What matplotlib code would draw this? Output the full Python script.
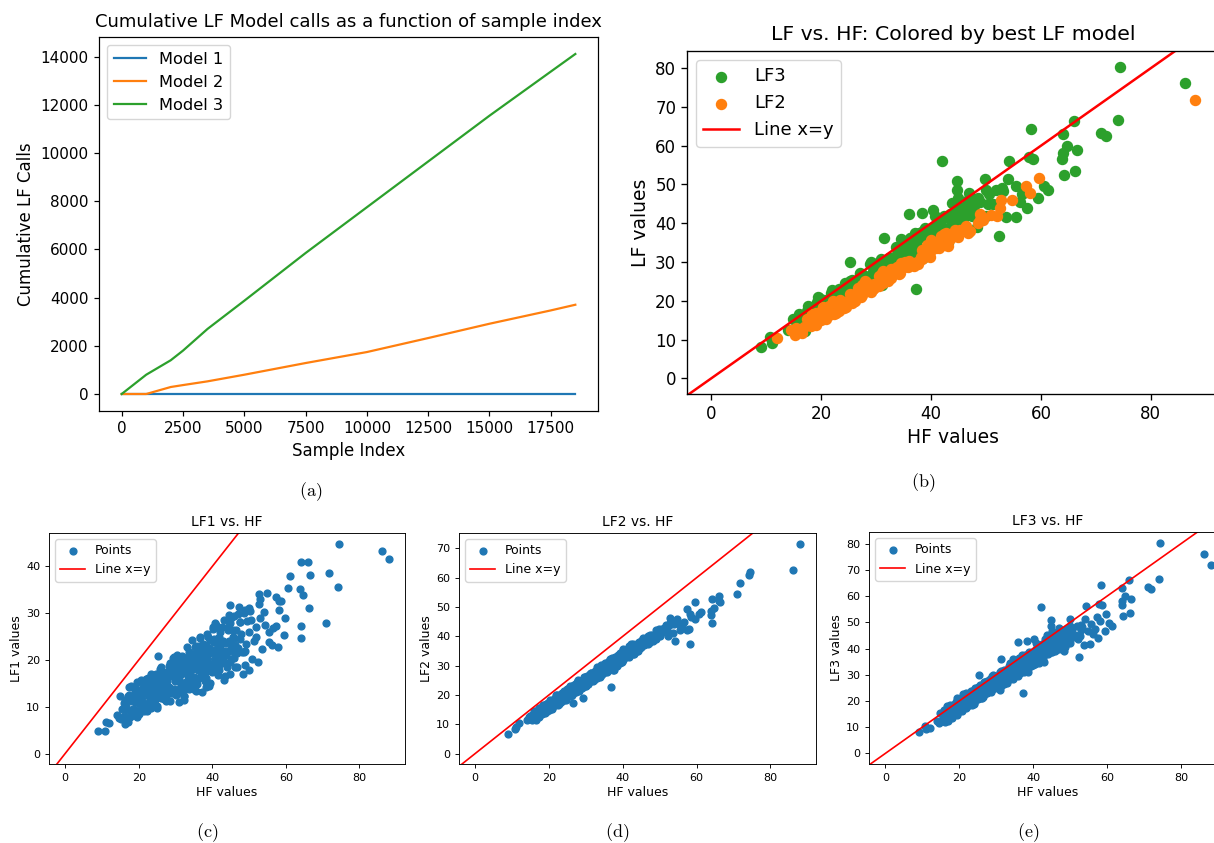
import numpy as np
import matplotlib
matplotlib.use('Agg')
import matplotlib.pyplot as plt

plt.rcParams['mathtext.fontset'] = 'cm'

W, H = 1214, 843

# Panel (a): cumulative calls per LF model
sample_idx = [0, 1000, 2000, 2500, 3500, 5000, 7500, 10000, 12500, 15000, 17500, 18500]
model1_calls = [0, 0, 0, 0, 0, 0, 0, 0, 0, 0, 0, 0]
model2_calls = [0, 0, 290, 370, 525, 800, 1285, 1741, 2322, 2916, 3469, 3704]
model3_calls = [0, 800, 1400, 1800, 2700, 3870, 5850, 7750, 9650, 11550, 13380, 14110]

# Samples: HF value and the three LF values, plus the best LF model
hf = [
    14.8, 15.3, 15.9, 16.2, 16.6, 17.1, 17.5, 17.8, 18.2, 18.4,
    18.7, 19.0, 19.3, 19.6, 19.8, 20.1, 20.4, 20.6, 20.9, 21.2,
    21.4, 21.7, 21.9, 22.2, 22.5, 22.7, 23.0, 23.2, 23.5, 23.8,
    24.0, 24.3, 24.5, 24.8, 25.0, 25.3, 25.6, 25.8, 26.1, 26.3,
    26.6, 26.9, 27.1, 27.4, 27.6, 27.9, 28.2, 28.4, 28.7, 28.9,
    29.2, 29.5, 29.7, 30.0, 30.3, 30.5, 30.8, 31.1, 31.3, 31.6,
    31.9, 32.1, 32.4, 32.7, 32.9, 33.2, 33.5, 33.7, 34.0, 34.3,
    34.6, 34.8, 35.1, 35.4, 35.7, 36.0, 36.2, 36.5, 36.8, 37.1,
    37.4, 37.7, 38.0, 38.3, 38.6, 38.9, 39.2, 39.5, 39.9, 40.2,
    40.6, 41.0, 41.4, 41.9, 42.4, 43.0, 43.6, 44.3, 45.1, 46.0,
    18.0, 19.1, 20.0, 21.0, 22.0, 23.1, 24.1, 25.1, 26.0, 27.0,
    28.0, 29.0, 30.1, 31.0, 32.0, 33.0, 34.1, 35.0, 36.1, 37.0,
    38.1, 39.0, 40.0, 41.2, 24.6, 27.5, 30.6, 33.8, 36.6, 39.6,
    88.0, 86.2, 74.4, 74.1, 71.8, 71.0, 66.0, 66.5, 66.2, 64.1,
    64.7, 63.9, 64.0, 64.2, 61.2, 60.6, 59.7, 59.5, 58.2, 57.9,
    58.6, 57.3, 58.1, 56.6, 56.2, 57.4, 54.8, 52.8, 54.2, 54.0,
    52.6, 55.4, 53.6, 52.4, 50.9, 53.1, 49.9, 49.5, 48.5, 48.3,
    48.9, 47.5, 47.0, 42.0, 44.8, 44.7, 43.8, 46.3, 44.9, 42.8,
    41.8, 45.5, 43.0, 9.0, 10.7, 11.1, 12.0, 14.0, 14.6, 17.0,
    17.4, 19.5, 22.9, 25.3, 37.3, 32.2, 31.0, 36.7, 34.6, 40.3,
    29.2, 26.5, 38.3, 36.0, 31.4,
    15.5, 16.0, 16.4, 16.9, 17.3, 17.6, 18.1, 18.5, 18.9, 19.2,
    19.5, 19.9, 20.2, 20.5, 20.8, 21.1, 21.5, 21.8, 22.1, 22.4,
    22.8, 23.1, 23.4, 23.7, 24.1, 24.4, 24.7, 25.0, 25.4, 25.7,
    26.0, 26.4, 26.7, 27.0, 27.3, 27.7, 28.0, 28.3, 28.6, 29.0,
    29.3, 29.6, 29.9, 30.2, 30.6, 30.9, 31.2, 31.5, 31.8, 32.2,
    32.5, 32.8, 33.1, 33.4, 33.8, 34.1, 34.4, 34.7, 35.0, 35.3,
    35.6, 35.9, 36.3, 36.6, 36.9, 37.2, 37.5, 37.9, 38.2, 38.5,
    38.8, 39.1, 39.4, 39.8, 40.1, 40.4, 40.8, 41.1, 41.5, 41.8,
    42.2, 42.6, 43.1, 43.5, 44.0, 44.5, 45.0, 45.6, 46.2, 46.8,
    47.5, 48.2, 49.0, 50.0, 26.2, 27.8, 29.4, 31.0, 32.6, 34.2,
    35.8, 37.3, 38.7, 21.6, 23.3, 25.2, 28.8, 30.4, 33.6, 36.4,
    19.4, 22.6, 24.9, 27.2, 29.8, 32.3, 34.9, 37.8, 40.9, 43.8,
    20.3, 23.9, 26.8, 30.0, 33.0, 35.5, 38.4, 41.6, 44.8, 47.2,
    40.5, 41.3, 42.0, 42.7, 43.3, 43.9, 44.6, 45.2, 45.8, 46.5,
    47.1, 47.8, 48.6, 49.2, 50.0, 50.6, 51.3, 52.0, 52.9, 55.5,
    38.5, 39.3, 40.0, 40.8, 41.6, 42.3, 43.5, 44.2, 45.0, 46.0,
    46.8, 47.6, 49.0, 50.3, 51.8, 36.0, 34.5, 37.5, 33.0, 35.2,
]
lf1 = [
    12.2, 7.4, 10.7, 6.3, 10.5, 12.2, 9.4, 14.5, 8.2, 12.3,
    13.9, 9.1, 12.2, 7.8, 11.9, 13.6, 10.7, 15.8, 9.4, 13.5,
    15.1, 10.3, 13.4, 9.0, 13.1, 14.7, 11.9, 16.9, 10.6, 14.7,
    16.3, 11.4, 14.5, 10.2, 14.3, 15.9, 13.0, 18.1, 11.8, 15.8,
    17.5, 12.6, 15.7, 11.3, 15.4, 17.1, 14.2, 19.3, 12.9, 17.0,
    18.6, 13.8, 16.9, 12.5, 16.6, 18.2, 15.4, 20.5, 14.1, 18.2,
    19.9, 15.0, 18.1, 13.7, 17.8, 19.4, 16.6, 21.7, 15.3, 19.4,
    21.1, 16.2, 19.3, 14.9, 19.1, 20.7, 17.8, 22.9, 16.6, 20.7,
    22.3, 17.5, 20.6, 16.2, 20.4, 22.0, 19.1, 24.3, 18.0, 22.1,
    23.8, 19.0, 22.1, 17.9, 22.1, 23.9, 21.1, 26.4, 20.3, 24.7,
    9.1, 13.6, 8.5, 12.0, 15.9, 12.4, 14.9, 9.8, 16.2, 12.7,
    13.6, 18.1, 13.1, 16.5, 20.4, 16.9, 19.4, 14.3, 20.8, 17.2,
    18.2, 22.6, 17.5, 21.0, 17.1, 14.4, 17.8, 13.7, 21.0, 18.3,
    41.6, 43.3, 44.9, 35.5, 38.5, 28.0, 41.0, 38.1, 31.2, 41.0,
    33.9, 35.1, 27.2, 24.8, 37.9, 35.3, 28.9, 25.4, 32.6, 22.7,
    32.5, 33.5, 30.6, 26.9, 23.2, 27.3, 34.4, 34.2, 27.5, 30.3,
    32.0, 23.9, 22.3, 19.6, 20.3, 33.1, 31.2, 28.3, 21.7, 17.0,
    18.9, 28.2, 29.8, 26.7, 31.7, 27.8, 22.0, 18.4, 17.0, 24.0,
    23.0, 25.0, 20.0, 4.8, 4.8, 6.8, 6.6, 8.2, 7.5, 6.8,
    14.3, 15.3, 16.0, 20.9, 13.2, 11.5, 11.0, 24.7, 24.2, 26.7,
    13.0, 12.0, 20.0, 19.0, 17.0,
    9.5, 8.0, 11.4, 9.2, 12.5, 7.9, 11.3, 9.5, 14.0, 10.8,
    12.7, 11.5, 9.4, 13.5, 10.8, 14.6, 9.1, 13.1, 10.9, 16.2,
    12.4, 14.6, 13.0, 10.6, 15.5, 12.2, 16.7, 10.2, 14.8, 12.2,
    18.4, 13.9, 16.4, 14.7, 11.9, 17.5, 13.6, 18.7, 11.3, 16.6,
    13.6, 20.6, 15.4, 18.3, 16.3, 13.1, 19.3, 15.0, 20.8, 12.4,
    18.3, 15.0, 22.7, 16.9, 20.1, 17.9, 14.3, 21.2, 16.4, 22.8,
    13.4, 19.9, 16.2, 24.9, 18.4, 21.9, 19.4, 15.5, 23.1, 17.7,
    24.9, 14.5, 21.6, 17.6, 27.0, 20.0, 23.8, 21.0, 16.8, 25.0,
    19.2, 27.0, 15.7, 23.6, 19.2, 29.7, 22.0, 26.3, 23.3, 18.6,
    28.1, 21.6, 30.7, 17.8, 15.2, 13.0, 20.4, 15.9, 19.5, 17.9,
    14.8, 22.6, 17.8, 14.9, 9.7, 14.7, 13.4, 21.1, 17.0, 21.5,
    11.2, 10.3, 15.9, 13.2, 19.6, 12.4, 19.5, 16.8, 27.5, 21.4,
    13.1, 13.3, 11.7, 18.7, 15.6, 22.9, 14.3, 22.7, 19.5, 31.3,
    24.5, 17.5, 26.0, 21.0, 28.5, 18.5, 24.0, 29.0, 20.5, 26.5,
    22.5, 25.5, 30.0, 23.5, 26.0, 28.5, 24.0, 27.0, 29.0, 26.0,
    25.5, 15.0, 21.5, 28.0, 19.5, 23.5, 16.5, 27.0, 23.0, 29.5,
    21.5, 24.5, 22.0, 30.5, 25.0, 22.0, 14.5, 23.5, 20.5, 13.5,
]
lf2 = [
    12.9, 11.3, 14.5, 12.9, 11.6, 14.3, 15.4, 15.4, 13.8, 16.6,
    15.0, 13.7, 16.2, 17.2, 17.1, 15.4, 18.3, 16.6, 15.3, 17.8,
    18.7, 18.8, 16.9, 19.9, 18.2, 16.8, 19.4, 20.2, 20.3, 18.5,
    21.4, 19.8, 18.3, 20.9, 21.8, 21.8, 20.1, 22.9, 21.3, 19.9,
    22.4, 23.4, 23.3, 21.6, 24.5, 22.8, 21.5, 23.9, 24.9, 24.9,
    23.1, 26.1, 24.4, 23.0, 25.6, 26.4, 26.5, 24.7, 27.6, 26.0,
    24.6, 27.1, 28.0, 28.1, 26.3, 29.2, 27.6, 26.2, 28.7, 29.7,
    29.7, 27.9, 30.8, 29.2, 27.9, 30.4, 31.3, 31.3, 29.6, 32.5,
    30.9, 29.6, 32.1, 33.1, 33.1, 31.4, 34.3, 32.7, 31.4, 34.0,
    35.0, 35.2, 33.5, 36.6, 35.1, 34.1, 36.9, 38.2, 38.6, 37.4,
    14.0, 16.9, 14.9, 17.9, 20.0, 18.9, 19.2, 22.0, 20.0, 23.0,
    25.1, 24.0, 24.3, 27.1, 25.1, 28.1, 30.3, 29.1, 29.4, 32.2,
    30.3, 33.2, 35.3, 34.3, 19.6, 24.1, 23.9, 28.7, 32.4, 33.0,
    71.7, 62.5, 61.8, 61.0, 58.1, 54.3, 53.8, 51.8, 52.2, 52.6,
    49.8, 48.6, 47.3, 44.7, 48.4, 47.5, 51.8, 46.0, 37.5, 42.4,
    46.5, 49.5, 47.8, 45.0, 43.6, 42.0, 45.9, 46.1, 38.4, 44.2,
    43.9, 42.0, 41.0, 40.0, 42.2, 44.2, 42.5, 40.9, 40.1, 38.5,
    39.0, 39.2, 39.5, 36.6, 37.9, 38.0, 37.0, 39.2, 37.9, 37.5,
    36.6, 38.5, 34.5, 6.6, 8.3, 9.0, 10.5, 11.5, 12.6, 13.0,
    15.5, 17.0, 20.0, 22.5, 28.5, 26.0, 25.0, 22.8, 29.0, 33.0,
    18.9, 17.2, 31.5, 30.5, 26.5,
    13.1, 11.7, 14.5, 13.3, 12.4, 14.9, 13.5, 16.3, 15.0, 14.0,
    16.5, 15.0, 17.8, 16.3, 15.4, 17.8, 16.4, 19.1, 17.7, 16.7,
    19.3, 17.7, 20.5, 19.0, 18.2, 20.6, 19.1, 21.9, 20.5, 19.5,
    22.0, 20.5, 23.3, 21.9, 20.9, 23.5, 21.9, 24.7, 23.2, 22.4,
    24.8, 23.3, 26.0, 24.6, 23.7, 26.2, 24.6, 27.4, 25.9, 25.1,
    27.5, 26.0, 28.7, 27.3, 26.4, 28.9, 27.3, 30.1, 28.7, 27.7,
    30.2, 28.6, 31.5, 30.0, 29.1, 31.5, 30.0, 32.8, 31.4, 30.4,
    32.9, 31.3, 34.1, 32.7, 31.8, 34.2, 32.8, 35.5, 34.2, 33.2,
    35.8, 34.3, 37.2, 35.9, 35.1, 37.7, 36.4, 39.4, 38.2, 37.5,
    40.3, 39.1, 42.3, 41.4, 20.0, 23.5, 23.1, 27.0, 26.6, 26.8,
    30.3, 29.8, 33.5, 17.3, 17.5, 21.3, 22.6, 26.4, 27.5, 28.6,
    16.4, 17.3, 21.8, 22.0, 23.0, 27.4, 27.8, 32.7, 33.7, 34.9,
    17.2, 18.4, 23.4, 24.4, 25.8, 30.1, 30.7, 36.0, 37.0, 37.8,
    33.0, 34.8, 35.5, 34.0, 36.8, 35.5, 36.0, 38.3, 37.0, 39.0,
    38.0, 40.5, 39.5, 41.5, 40.0, 42.5, 43.0, 42.0, 44.5, 44.0,
    30.0, 31.0, 35.8, 33.5, 33.0, 37.3, 35.0, 37.8, 36.5, 38.5,
    40.0, 38.8, 40.8, 41.0, 44.0, 31.2, 27.0, 28.5, 29.5, 30.0,
]
lf3 = [
    15.3, 12.2, 15.3, 12.1, 17.9, 14.9, 16.3, 14.1, 17.9, 18.6,
    15.4, 18.2, 15.0, 20.7, 17.4, 18.7, 16.5, 20.2, 20.9, 17.7,
    20.4, 17.2, 22.9, 19.6, 20.9, 18.6, 22.4, 23.1, 19.9, 22.6,
    19.3, 25.1, 21.8, 23.1, 20.8, 24.5, 25.3, 22.0, 24.8, 21.5,
    27.2, 24.0, 25.2, 23.0, 26.7, 27.5, 24.2, 26.9, 23.7, 29.4,
    26.2, 27.4, 25.1, 28.9, 29.7, 26.4, 29.1, 25.9, 31.6, 28.4,
    29.7, 27.4, 31.1, 31.9, 28.6, 31.4, 28.2, 33.8, 30.6, 31.9,
    29.7, 33.4, 34.1, 30.9, 33.7, 30.5, 36.2, 33.0, 34.2, 32.0,
    35.8, 36.6, 33.3, 36.1, 32.9, 38.7, 35.5, 36.7, 34.6, 38.4,
    39.3, 36.1, 39.0, 36.0, 41.9, 39.0, 40.6, 38.7, 42.9, 44.3,
    15.2, 19.8, 18.1, 22.5, 18.0, 22.5, 18.9, 23.8, 22.7, 27.1,
    25.5, 30.0, 25.5, 29.8, 26.3, 31.2, 30.2, 34.6, 33.1, 37.4,
    32.9, 37.3, 33.7, 38.8, 21.4, 27.6, 28.0, 34.4, 31.5, 37.8,
    71.8, 76.2, 80.4, 66.5, 62.6, 63.4, 66.3, 59.0, 53.5, 63.1,
    59.9, 56.7, 58.0, 52.5, 48.5, 49.7, 53.0, 46.6, 64.2, 57.0,
    56.7, 52.0, 50.6, 47.5, 45.6, 44.0, 46.5, 47.0, 56.1, 51.4,
    44.8, 41.7, 41.5, 36.6, 44.5, 48.2, 51.3, 42.0, 40.7, 39.0,
    45.5, 46.0, 47.8, 56.0, 50.8, 48.5, 45.3, 40.0, 38.5, 39.0,
    37.5, 44.0, 35.0, 8.0, 10.6, 9.2, 9.7, 12.5, 11.6, 12.2,
    17.5, 21.0, 22.0, 30.0, 23.0, 27.0, 24.0, 31.0, 36.0, 43.5,
    25.0, 22.0, 42.7, 42.4, 36.1,
    13.9, 16.7, 13.1, 16.5, 14.5, 18.6, 13.6, 17.4, 17.1, 19.7,
    15.9, 19.3, 17.2, 21.3, 16.1, 19.8, 19.5, 22.1, 18.4, 21.6,
    19.6, 23.7, 18.6, 22.2, 21.9, 24.5, 20.8, 24.1, 22.0, 26.1,
    21.0, 24.8, 24.3, 26.9, 23.2, 26.6, 24.4, 28.5, 23.4, 27.2,
    26.8, 29.3, 25.6, 28.9, 26.9, 30.9, 25.8, 29.5, 29.1, 31.8,
    28.0, 31.3, 29.2, 33.3, 28.2, 31.9, 31.5, 34.1, 30.4, 33.6,
    31.5, 35.6, 30.6, 34.2, 33.8, 36.4, 32.7, 36.1, 33.9, 38.0,
    32.9, 36.6, 36.1, 38.8, 35.1, 38.4, 36.3, 40.4, 35.4, 39.1,
    38.8, 41.4, 37.9, 41.3, 39.3, 43.6, 38.7, 42.6, 42.5, 45.3,
    42.0, 45.6, 44.0, 48.7, 21.2, 26.1, 26.8, 30.6, 28.1, 32.6,
    31.7, 36.9, 32.8, 20.3, 21.2, 25.2, 24.6, 29.1, 29.7, 36.1,
    14.8, 21.2, 22.7, 27.1, 25.5, 30.8, 30.9, 37.4, 34.8, 40.9,
    18.4, 24.0, 22.7, 28.7, 29.1, 35.2, 32.5, 38.9, 41.2, 45.7,
    34.0, 39.5, 41.0, 36.5, 43.5, 38.0, 40.5, 44.5, 41.0, 43.5,
    40.0, 44.5, 46.5, 44.0, 42.0, 47.5, 45.0, 43.5, 49.0, 49.5,
    31.0, 33.5, 36.5, 42.0, 34.5, 37.0, 42.5, 39.5, 46.5, 39.0,
    46.0, 42.5, 47.5, 45.0, 48.5, 29.5, 28.5, 31.0, 27.0, 29.5,
]
best = [
    3, 2, 3, 3, 2, 3, 2, 3, 3, 2,
    3, 2, 3, 3, 2, 3, 2, 3, 2, 3,
    2, 3, 3, 2, 3, 2, 3, 3, 2, 3,
    3, 2, 2, 3, 3, 2, 3, 3, 2, 3,
    2, 3, 3, 2, 3, 2, 3, 2, 3, 3,
    2, 3, 2, 3, 3, 2, 3, 3, 2, 3,
    3, 2, 3, 2, 3, 3, 2, 3, 2, 3,
    2, 3, 3, 2, 3, 2, 3, 3, 2, 3,
    3, 2, 3, 2, 3, 3, 2, 3, 2, 3,
    2, 3, 2, 3, 3, 2, 3, 2, 3, 3,
    3, 2, 3, 2, 3, 2, 3, 3, 2, 3,
    2, 3, 3, 2, 3, 2, 3, 3, 2, 3,
    3, 2, 3, 2, 3, 2, 3, 2, 3, 2,
    2, 3, 3, 3, 3, 3, 3, 3, 3, 3,
    3, 3, 3, 3, 3, 3, 2, 3, 3, 3,
    3, 2, 2, 3, 3, 3, 2, 2, 3, 3,
    2, 3, 3, 3, 2, 3, 3, 2, 2, 3,
    3, 3, 3, 3, 3, 3, 3, 2, 2, 2,
    2, 3, 3, 3, 3, 3, 2, 3, 2, 3,
    3, 3, 3, 3, 3, 3, 3, 3, 3, 3,
    3, 3, 3, 3, 3,
    2, 3, 3, 2, 3, 3, 2, 3, 2, 3,
    3, 2, 3, 2, 3, 3, 2, 3, 3, 2,
    3, 2, 3, 3, 2, 3, 2, 3, 3, 2,
    3, 3, 2, 3, 2, 3, 3, 2, 3, 2,
    3, 2, 3, 3, 2, 3, 2, 3, 3, 2,
    3, 2, 3, 2, 3, 3, 2, 3, 2, 3,
    3, 2, 3, 3, 2, 3, 2, 3, 2, 3,
    2, 3, 3, 2, 3, 2, 3, 3, 2, 3,
    3, 2, 3, 2, 3, 3, 2, 3, 3, 2,
    3, 3, 2, 3, 2, 3, 2, 3, 3, 2,
    3, 2, 3, 3, 2, 3, 2, 3, 2, 3,
    2, 3, 3, 2, 3, 2, 3, 3, 2, 3,
    3, 2, 3, 2, 3, 3, 2, 3, 2, 3,
    3, 2, 3, 3, 2, 3, 3, 2, 3, 3,
    2, 3, 3, 2, 3, 3, 3, 2, 3, 3,
    3, 3, 2, 3, 3, 2, 3, 3, 3, 2,
    3, 3, 2, 3, 3, 3, 3, 3, 3, 2,
]

hf = np.array(hf)
lf1 = np.array(lf1)
lf2 = np.array(lf2)
lf3 = np.array(lf3)
best = np.array(best)


# Converte uma caixa em pixels (esquerda, topo, direita, base) para fracoes da figura.
def box(left, top, right, bottom):
    return [left / W, 1 - bottom / H, (right - left) / W, (bottom - top) / H]


# Limites como o autoscale do matplotlib (dados de 0 ao maximo); devolve as pontas da reta x=y.
def diag_limits(ax, x, y):
    xhi = x.max()
    yhi = y.max()
    ax.set_xlim(-0.05 * xhi, 1.05 * xhi)
    ax.set_ylim(-0.05 * yhi, 1.05 * yhi)
    return [-10, max(xhi, yhi) * 1.2]


def style(ax, scale, ticksize):
    ax.tick_params(labelsize=ticksize, length=3.5 * scale, width=0.8 * scale)
    for sp in ax.spines.values():
        sp.set_linewidth(0.8 * scale)


fig = plt.figure(figsize=(W / 100, H / 100), dpi=100)

# (a)
ax = fig.add_axes(box(99, 37, 598, 411))
ax.plot(sample_idx, model1_calls, color='C0', lw=1.6, label='Model 1')
ax.plot(sample_idx, model2_calls, color='C1', lw=1.6, label='Model 2')
ax.plot(sample_idx, model3_calls, color='C2', lw=1.6, label='Model 3')
ax.set_title('Cumulative LF Model calls as a function of sample index', fontsize=13, pad=7)
ax.set_xlabel('Sample Index', fontsize=12)
ax.set_ylabel('Cumulative LF Calls', fontsize=12)
ax.set_xticks([0, 2500, 5000, 7500, 10000, 12500, 15000, 17500])
style(ax, 1.09, 11)
ax.legend(loc='upper left', fontsize=11.7)
fig.text(311 / W, 1 - 492 / H, r'$\mathrm{(a)}$', fontsize=13, ha='center', va='center')

# (b)
ax = fig.add_axes(box(687, 51, 1219, 394))
m3 = best == 3
m2 = best == 2
ax.scatter(hf[m3], lf3[m3], color='C2', s=52, label='LF3')
ax.scatter(hf[m2], lf2[m2], color='C1', s=52, label='LF2')
lf_best = np.where(m3, lf3, lf2)
ends = diag_limits(ax, hf, lf_best)
ax.plot(ends, ends, color='red', lw=1.8, label='Line x=y')
ax.set_title('LF vs. HF: Colored by best LF model', fontsize=14.7, pad=8)
ax.set_xlabel('HF values', fontsize=13.5)
ax.set_ylabel('LF values', fontsize=13.5)
style(ax, 1.2, 12)
ax.legend(loc='upper left', fontsize=13)
fig.text(923 / W, 1 - 483 / H, r'$\mathrm{(b)}$', fontsize=13, ha='center', va='center')

# (c), (d), (e)
bottom = [
    ('LF1', lf1, (49, 533, 405, 764), 207, '(c)'),
    ('LF2', lf2, (459, 533, 816, 764), 617, '(d)'),
    ('LF3', lf3, (869, 532, 1227, 764), 1028, '(e)'),
]
for name, vals, rect, capx, cap in bottom:
    ax = fig.add_axes(box(*rect))
    ax.scatter(hf, vals, color='C0', s=24, label='Points')
    ends = diag_limits(ax, hf, vals)
    ax.plot(ends, ends, color='red', lw=1.2, label='Line x=y')
    ax.set_title(name + ' vs. HF', fontsize=10, pad=5)
    ax.set_xlabel('HF values', fontsize=9, labelpad=2)
    ax.set_ylabel(name + ' values', fontsize=9, labelpad=2)
    style(ax, 0.82, 8)
    ax.legend(loc='upper left', fontsize=9)
    fig.text(capx / W, 1 - 833 / H, r'$\mathrm{%s}$' % cap, fontsize=13, ha='center', va='center')

fig.savefig('out.png', dpi=100)
